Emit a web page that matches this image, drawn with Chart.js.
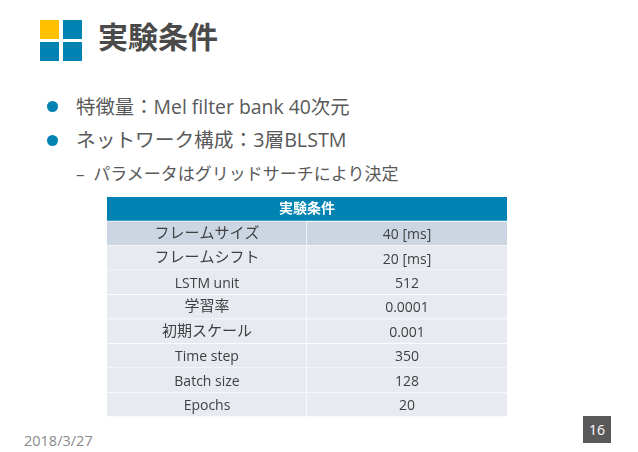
<!DOCTYPE html>
<html lang="ja">
<head>
<meta charset="utf-8">
<title>実験条件</title>
<script src="https://cdn.jsdelivr.net/npm/chart.js@4"></script>
<style>
  html, body { margin: 0; padding: 0; background: #fff; }
  body { width: 638px; height: 452px; position: relative; overflow: hidden;
         font-family: "Open Sans", "Noto Sans CJK JP", sans-serif; color: #595959; }
  canvas { position: absolute; left: 0; top: 0; }
  .abs { position: absolute; white-space: nowrap; line-height: 1; }
  .sq { position: absolute; width: 19px; height: 19px; background: #0083b3; }
  .dot { position: absolute; width: 11px; height: 11px; border-radius: 50%; background: #0083b3; }
</style>
</head>
<body>
<div class="sq" style="left:40px;top:20px;background:#ffc000"></div>
<div class="sq" style="left:63px;top:20px"></div>
<div class="sq" style="left:40px;top:42px"></div>
<div class="sq" style="left:63px;top:42px"></div>
<div class="abs" style="left:98px;top:22px;font-size:30px;font-weight:700;color:#4a4a4a">実験条件</div>
<div class="dot" style="left:46.5px;top:101px"></div>
<div class="abs" style="left:76px;top:97px;font-size:19.4px">特徴量：Mel filter bank 40次元</div>
<div class="dot" style="left:46.5px;top:135px"></div>
<div class="abs" style="left:76px;top:130px;font-size:19.7px">ネットワーク構成：3層BLSTM</div>
<div class="abs" style="left:76px;top:165px;font-size:17px">–&nbsp; パラメータはグリッドサーチにより決定</div>
<div class="abs" style="left:24px;top:434px;font-size:14.5px;color:#8c8c8c">2018/3/27</div>
<div class="abs" style="left:583px;top:416px;width:28px;height:27px;background:#595959;color:#fff;font-size:14px;line-height:27px;text-align:center">16</div>
<canvas id="table-chart" width="638" height="452"></canvas>
<script>
const tableTitle = "実験条件";
const rowNames = ["フレームサイズ", "フレームシフト", "LSTM unit", "学習率", "初期スケール", "Time step", "Batch size", "Epochs"];
const rowValues = ["40 [ms]", "20 [ms]", "512", "0.0001", "0.001", "350", "128", "20"];

// each cell is a stacked bar, its value is how many columns it spans
const categories = [tableTitle, ...rowNames];
const leftSpan = [2, 1, 1, 1, 1, 1, 1, 1, 1];
const rightSpan = [null, 1, 1, 1, 1, 1, 1, 1, 1];

function cellColor(ctx) {
  if (ctx.dataIndex === 0) return "#0083b3";
  return ctx.dataIndex === 1 ? "#cbd6e2" : "#e7eaf1";
}

// japanese text sits a bit higher than latin text in the slide, and a bit larger
function drawCell(g, text, x, y) {
  const latin = /^[\x00-\x7f]+$/.test(text);
  g.font = (latin ? "14px" : "15px") + ' "Open Sans", "Noto Sans CJK JP"';
  g.fillText(text, x, latin ? y + 1.5 : y);
}

const cellText = {
  id: "cellText",
  afterDatasetsDraw(chart) {
    const g = chart.ctx;
    g.save();
    g.textAlign = "center";
    g.textBaseline = "middle";
    chart.getDatasetMeta(0).data.forEach((bar, i) => {
      const mid = (bar.base + bar.x) / 2;
      if (i === 0) {
        g.fillStyle = "#fff";
        g.font = '700 14px "Open Sans", "Noto Sans CJK JP"';
        g.fillText(tableTitle, mid, bar.y);
        return;
      }
      const right = chart.getDatasetMeta(1).data[i];
      g.fillStyle = "#404040";
      drawCell(g, rowNames[i - 1], mid, bar.y);
      drawCell(g, rowValues[i - 1], (right.base + right.x) / 2, bar.y);
    });
    g.restore();
  },
};

new Chart(document.getElementById("table-chart"), {
  type: "bar",
  data: {
    labels: categories,
    datasets: [
      {
        data: leftSpan,
        backgroundColor: cellColor,
        borderWidth: (ctx) => (ctx.dataIndex === 0 ? { bottom: 1 } : { right: 1, bottom: 1 }),
      },
      { data: rightSpan, backgroundColor: cellColor, borderWidth: { bottom: 1 } },
    ],
  },
  options: {
    indexAxis: "y",
    responsive: false,
    animation: false,
    layout: { padding: { left: 107, right: 131, top: 197, bottom: 35 } },
    datasets: { bar: { categoryPercentage: 1, barPercentage: 1, borderColor: "#fff", borderSkipped: false } },
    plugins: { legend: { display: false }, tooltip: { enabled: false } },
    scales: {
      x: { display: false, stacked: true, min: 0, max: 2 },
      y: { display: false, stacked: true },
    },
  },
  plugins: [cellText],
});
</script>
</body>
</html>
